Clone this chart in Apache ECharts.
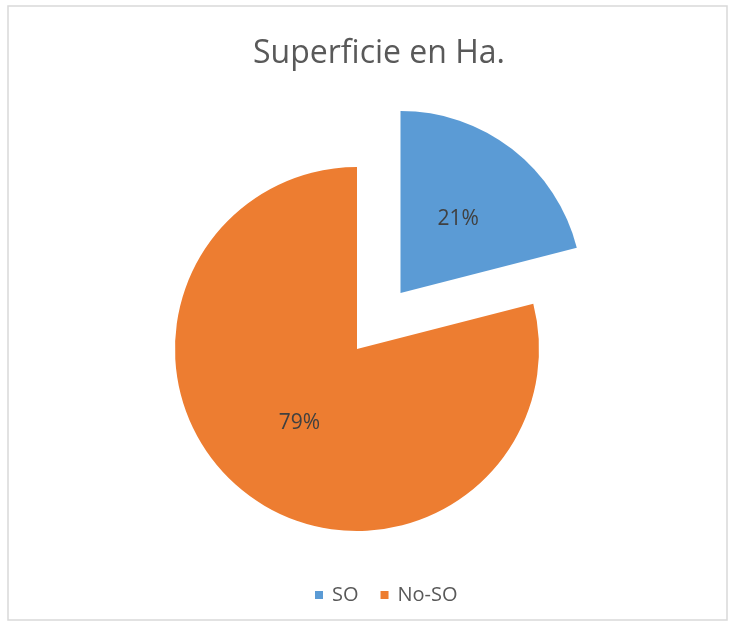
<!DOCTYPE html>
<html>
<head>
<meta charset="utf-8">
<script src="https://cdn.jsdelivr.net/npm/echarts@6/dist/echarts.min.js"></script>
<style>
  html, body { margin: 0; padding: 0; background: #fff; }
  #chart { width: 735px; height: 623px; }
</style>
</head>
<body>
<div id="chart"></div>
<script>
// datos del gráfico
const categories = ['SO', 'No-SO'];
const shares = [21, 79];
const colors = ['#5B9BD5', '#ED7D31'];
const titleText = 'Superficie en Ha.';

const chart = echarts.init(document.getElementById('chart'));

chart.setOption({
  animation: false,
  title: {
    text: titleText,
    left: 248,
    top: 33,
    textStyle: {
      fontFamily: 'Open Sans',
      fontSize: 32,
      fontWeight: 'normal',
      color: '#595959'
    }
  },
  legend: {
    data: categories,
    top: 580,
    left: 310,
    icon: 'rect',
    itemWidth: 8,
    itemHeight: 8,
    itemGap: 22,
    textStyle: {
      fontFamily: 'Open Sans',
      fontSize: 20,
      color: '#595959',
      padding: [0, 0, 0, 4]
    }
  },
  graphic: [{
    type: 'rect',
    shape: { x: 8, y: 6, width: 719, height: 614 },
    style: { fill: 'none', stroke: '#d9d9d9', lineWidth: 1.5 },
    silent: true
  }],
  series: [{
    type: 'pie',
    center: [357, 349],
    radius: [0, 182],
    startAngle: 90,
    clockwise: true,
    selectedMode: 'single',
    selectedOffset: 71,
    emphasis: { disabled: true },
    label: {
      show: true,
      position: 'inside',
      formatter: '{c}%',
      fontFamily: 'Open Sans',
      fontSize: 21,
      color: '#404040'
    },
    labelLine: { show: false },
    data: categories.map((name, i) => ({
      name: name,
      value: shares[i],
      selected: i === 0,
      itemStyle: { color: colors[i] }
    }))
  }]
});
</script>
</body>
</html>
